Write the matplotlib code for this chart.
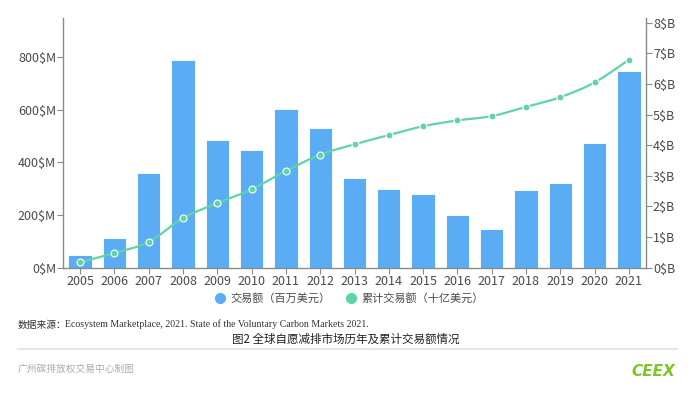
import matplotlib
matplotlib.use("Agg")
import matplotlib.pyplot as plt
from matplotlib.path import Path
from matplotlib.patches import PathPatch
from matplotlib.lines import Line2D
import numpy as np

plt.rcParams['font.family'] = ['Noto Sans CJK SC', 'DejaVu Sans']

years = ['2005', '2006', '2007', '2008', '2009', '2010', '2011', '2012', '2013',
         '2014', '2015', '2016', '2017', '2018', '2019', '2020', '2021']
volume_musd = [49, 112, 360, 791, 486, 446, 603, 531, 340, 299, 280, 200, 147, 297, 322, 474, 748]
cumulative_busd = [0.18, 0.48, 0.84, 1.62, 2.11, 2.56, 3.16, 3.69, 4.03, 4.33, 4.62, 4.81, 4.95,
                   5.25, 5.57, 6.05, 6.79]
left_ticks = [0, 200, 400, 600, 800]
left_labels = ['0$M', '200$M', '400$M', '600$M', '800$M']
right_ticks = [0, 1, 2, 3, 4, 5, 6, 7, 8]
right_labels = ['0$B', '1$B', '2$B', '3$B', '4$B', '5$B', '6$B', '7$B', '8$B']
legend_labels = ['交易额（百万美元）', '累计交易额（十亿美元）']

BAR_C = '#5aacf4'
LINE_C = '#5fd4a4'
AXIS_C = '#8a8a8a'
TXT_C = '#4a4a4a'

W, H = 693, 393
fig = plt.figure(figsize=(W / 100, H / 100), dpi=100)
x0, x1, yb, yt = 63, 646, 267.7, 18
ax = fig.add_axes([x0 / W, 1 - yb / H, (x1 - x0) / W, (yb - yt) / H])
ax2 = ax.twinx()

x = np.arange(len(years))
ax.bar(x, volume_musd, width=0.68, color=BAR_C, edgecolor='white', linewidth=0.6, zorder=2)
ax.set_xlim(-0.5, len(years) - 0.5)
ax.set_ylim(0, 949)
ax2.set_ylim(0, 8.155)

# smooth curve (Catmull-Rom bezier through the data points)
pts = np.column_stack([x, cumulative_busd]).astype(float)
verts = [tuple(pts[0])]
codes = [Path.MOVETO]
t = 1 / 6
n = len(pts)
for i in range(n - 1):
    p0 = pts[max(i - 1, 0)]
    p1 = pts[i]
    p2 = pts[i + 1]
    p3 = pts[min(i + 2, n - 1)]
    c1 = p1 + (p2 - p0) * t
    c2 = p2 - (p3 - p1) * t
    verts += [tuple(c1), tuple(c2), tuple(p2)]
    codes += [Path.CURVE4] * 3
ax2.add_patch(PathPatch(Path(verts, codes), facecolor='none', edgecolor=LINE_C, lw=1.6, zorder=3))
ax2.plot(x, cumulative_busd, linestyle='none', marker='o', markersize=5,
         markerfacecolor=LINE_C, markeredgecolor='white', markeredgewidth=0.8, zorder=4)

for a in (ax, ax2):
    a.spines['top'].set_visible(False)
    for s in ('left', 'right', 'bottom'):
        a.spines[s].set_color(AXIS_C)
        a.spines[s].set_linewidth(1.0)
ax.spines['right'].set_visible(False)
ax2.spines['left'].set_visible(False)
ax2.spines['bottom'].set_visible(False)

ax.set_xticks(x)
ax.set_xticklabels(years)
ax.set_yticks(left_ticks)
ax.set_yticklabels(left_labels)
ax2.set_yticks(right_ticks)
ax2.set_yticklabels(right_labels)
ax.tick_params(axis='x', length=4, color=AXIS_C, labelsize=9, labelcolor=TXT_C, pad=1.5)
ax.tick_params(axis='y', length=4, color=AXIS_C, labelsize=9, labelcolor=TXT_C, pad=1)
ax2.tick_params(axis='y', length=4, color=AXIS_C, labelsize=9, labelcolor=TXT_C, pad=1)

handles = [Line2D([], [], linestyle='none', marker='o', markersize=7, markerfacecolor=BAR_C, markeredgecolor=BAR_C),
           Line2D([], [], linestyle='none', marker='o', markersize=7, markerfacecolor=LINE_C, markeredgecolor=LINE_C)]
fig.legend(handles, legend_labels, loc='center', bbox_to_anchor=(349 / W, 1 - 298 / H), ncol=2,
           frameon=False, fontsize=8, labelcolor=TXT_C, handletextpad=0.45, columnspacing=1.3,
           handlelength=1.0)

# source line
fig.text(18 / W, 1 - 324.5 / H, '数据来源：', fontsize=7, color='#333333', va='center', ha='left')
fig.text(65 / W, 1 - 324.5 / H, 'Ecosystem Marketplace, 2021. State of the Voluntary Carbon Markets 2021.',
         fontsize=7.1, color='#333333', va='center', ha='left', family='Liberation Serif')
fig.text(346 / W, 1 - 339 / H, '图2 全球自愿减排市场历年及累计交易额情况', fontsize=8.3,
         color='#222222', va='center', ha='center', fontweight='medium')
fig.add_artist(Line2D([18 / W, 677 / W], [1 - 349 / H, 1 - 349 / H], color='#e6e6e6', lw=1.5))
fig.text(18 / W, 1 - 369 / H, '广州碳排放权交易中心制图', fontsize=7, color='#aaaaaa', va='center', ha='left')
fig.text(675 / W, 1 - 372 / H, 'CEEX', fontsize=11, color='#7cc628', va='center', ha='right',
         fontweight='bold', family='DejaVu Sans', style='italic')

fig.savefig('out.png', dpi=100)
